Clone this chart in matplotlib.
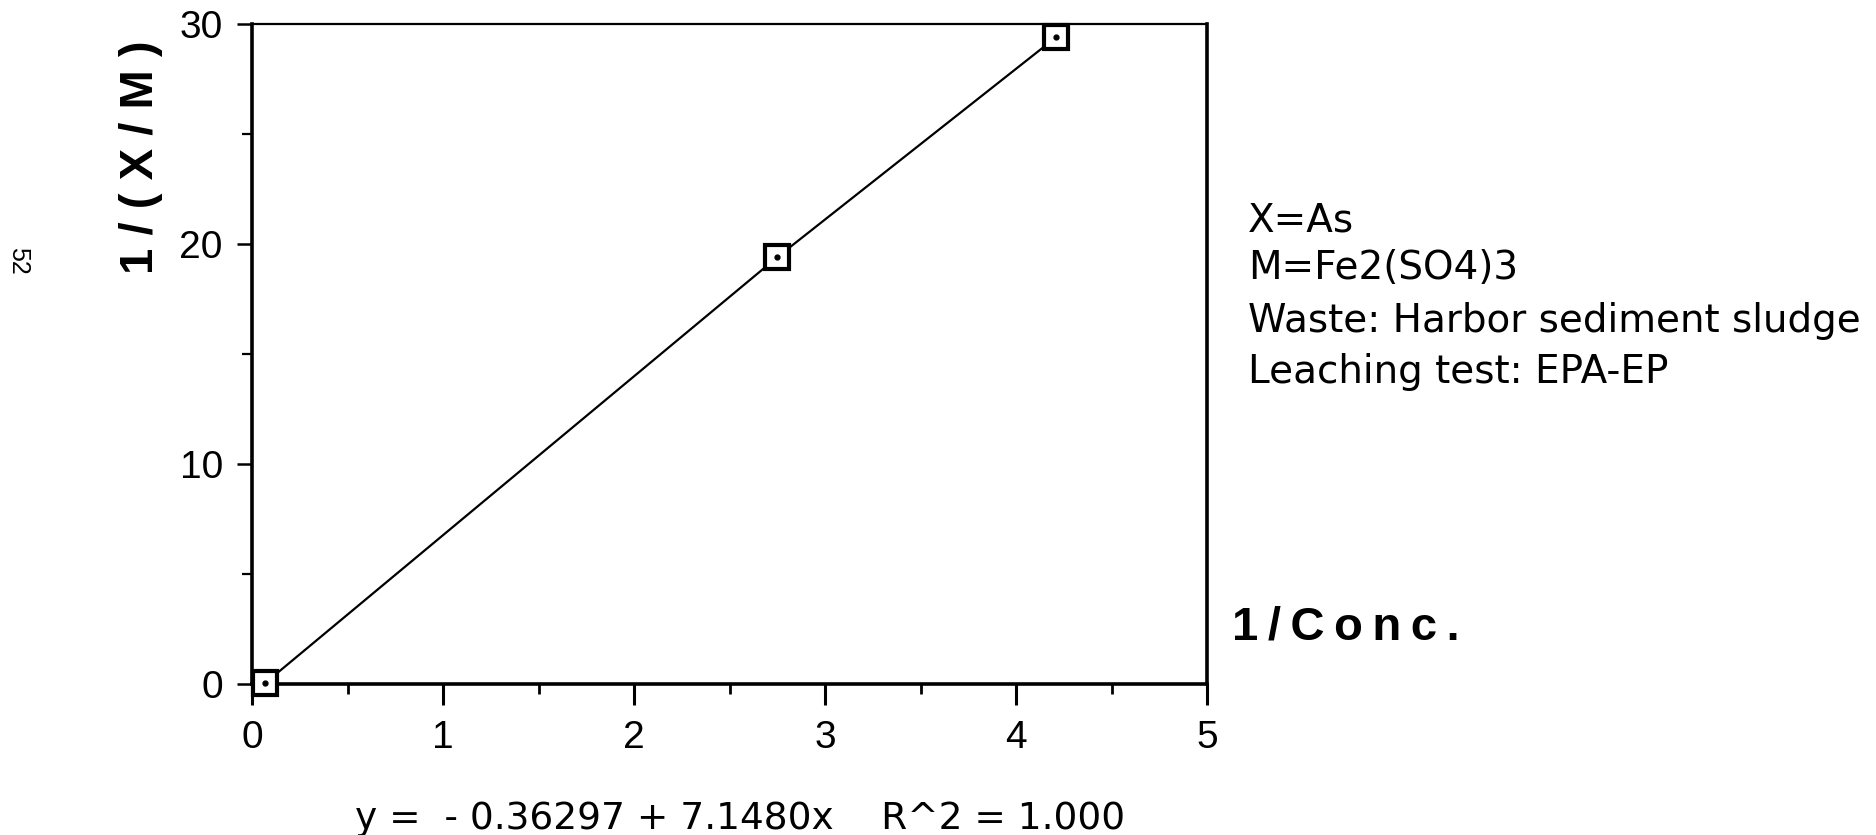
import matplotlib.pyplot as plt
from matplotlib.ticker import MultipleLocator

# isotherm points: 1/Conc. vs 1/(X/M)
inv_conc = [0.07, 2.75, 4.21]
inv_xm = [0.05, 19.4, 29.4]

x_ticks = [0, 1, 2, 3, 4, 5]
y_ticks = [0, 10, 20, 30]

notes = ["X=As", "M=Fe2(SO4)3", "Waste: Harbor sediment sludge", "Leaching test: EPA-EP"]
fit_text = "y =  - 0.36297 + 7.1480x    R^2 = 1.000"

plt.rcParams['font.family'] = ['Liberation Sans', 'DejaVu Sans']

fig = plt.figure(figsize=(18.76, 8.35), dpi=100)
ax = fig.add_axes([252 / 1876, 151 / 835, 955 / 1876, 660 / 835])

ax.plot(inv_conc, inv_xm, color='black', linewidth=1.6, zorder=3)
ax.plot(inv_conc, inv_xm, linestyle='none', marker='s', markersize=17,
        markerfacecolor='white', markeredgecolor='black', markeredgewidth=3,
        clip_on=False, zorder=4)
ax.plot(inv_conc, inv_xm, linestyle='none', marker='o', markersize=3.5,
        color='black', clip_on=False, zorder=5)

ax.set_xlim(0, 5)
ax.set_ylim(0, 30)
ax.set_xticks(x_ticks)
ax.set_yticks(y_ticks)
ax.xaxis.set_minor_locator(MultipleLocator(0.5))
ax.yaxis.set_minor_locator(MultipleLocator(5))

ax.tick_params(axis='x', which='major', direction='out', length=15, width=2.2,
               pad=11, labelsize=28)
ax.tick_params(axis='x', which='minor', direction='out', length=7, width=2.0)
ax.tick_params(axis='y', which='major', direction='out', length=11, width=1.8,
               pad=10, labelsize=28)
ax.tick_params(axis='y', which='minor', direction='out', length=7, width=1.6)

for side in ['left', 'bottom', 'right']:
    ax.spines[side].set_linewidth(2.6)
ax.spines['top'].set_linewidth(1.6)

fig.text(141 / 1876, 1 - 157 / 835, "1 / ( X / M )", rotation=90, ha='center',
         va='center', fontsize=34, fontweight='bold')
fig.text(1232 / 1876, 1 - 628 / 835, "1\u2009/\u2009C\u2009o\u2009n\u2009c\u2009.",
         ha='left', va='center', fontsize=34, fontweight='bold')

baselines = [231, 279, 332, 383]
for line, yb in zip(notes, baselines):
    fig.text(1248 / 1876, 1 - yb / 835, line, ha='left', va='baseline',
             fontsize=28, family='DejaVu Sans')

fig.text(355 / 1876, 1 - 829 / 835, fit_text, ha='left', va='baseline', fontsize=27,
         family='DejaVu Sans')
fig.text(18 / 1876, 1 - 261 / 835, "52", rotation=-90, ha='center', va='center',
         fontsize=18)

fig.savefig('out.png', dpi=100, facecolor='white')
